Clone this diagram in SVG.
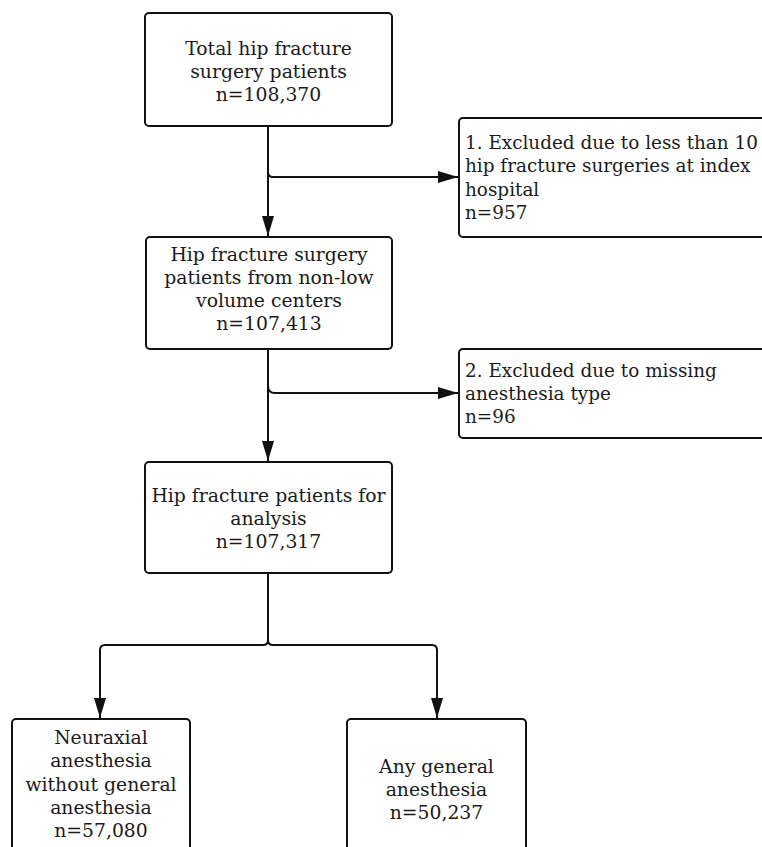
<svg xmlns="http://www.w3.org/2000/svg" width="762" height="847" viewBox="0 0 762 847">
<style>
.box{fill:#fff;stroke:#111;stroke-width:2}
.t{font-family:"DejaVu Serif","Liberation Serif",serif;font-size:18.8px;fill:#1a1a1a}
.s{font-size:18.4px}
.c{text-anchor:middle}
.ln{fill:none;stroke:#111;stroke-width:2}
</style>
<defs>
<marker id="ah" markerUnits="userSpaceOnUse" markerWidth="20" markerHeight="12" refX="20" refY="6" orient="auto">
<path d="M0,0 L20,6 L0,12 z" fill="#111"/>
</marker>
</defs>
<rect width="762" height="847" fill="#fff"/>
<g id="connectors">
<path class="ln" d="M268,126 V236" marker-end="url(#ah)"/>
<path class="ln" d="M268,172 Q268,177 273,177 H458" marker-end="url(#ah)"/>
<path class="ln" d="M268,349 V461" marker-end="url(#ah)"/>
<path class="ln" d="M268,386 Q268,393 275,393 H458" marker-end="url(#ah)"/>
<path class="ln" d="M268,573 V640 Q268,645 263,645 H105 Q100,645 100,650 V718" marker-end="url(#ah)"/>
<path class="ln" d="M268,640 Q268,645 273,645 H432 Q437,645 437,650 V718" marker-end="url(#ah)"/>
</g>
<g id="n1">
<rect class="box" x="145" y="13" width="247" height="113" rx="4"/>
<text class="t c" x="268.5" y="55">Total hip fracture</text>
<text class="t c" x="268.5" y="78">surgery patients</text>
<text class="t c" x="268.5" y="101">n=108,370</text>
</g>
<g id="e1">
<rect class="box" x="459" y="118" width="320" height="119" rx="4"/>
<text class="t s" x="465" y="149">1. Excluded due to less than 10</text>
<text class="t s" x="465" y="172">hip fracture surgeries at index</text>
<text class="t s" x="465" y="196">hospital</text>
<text class="t s" x="465" y="219">n=957</text>
</g>
<g id="n2">
<rect class="box" x="146" y="237" width="246" height="112" rx="4"/>
<text class="t c" x="269" y="261">Hip fracture surgery</text>
<text class="t c" x="269" y="284">patients from non-low</text>
<text class="t c" x="269" y="307">volume centers</text>
<text class="t c" x="269" y="330">n=107,413</text>
</g>
<g id="e2">
<rect class="box" x="459" y="349" width="320" height="89" rx="4"/>
<text class="t s" x="465" y="377">2. Excluded due to missing</text>
<text class="t s" x="465" y="400">anesthesia type</text>
<text class="t s" x="465" y="423">n=96</text>
</g>
<g id="n3">
<rect class="box" x="145" y="462" width="247" height="111" rx="4"/>
<text class="t c" x="268.5" y="502">Hip fracture patients for</text>
<text class="t c" x="268.5" y="525">analysis</text>
<text class="t c" x="268.5" y="548">n=107,317</text>
</g>
<g id="n4">
<rect class="box" x="12" y="719" width="178" height="150" rx="4"/>
<text class="t c" x="101" y="744">Neuraxial</text>
<text class="t c" x="101" y="767">anesthesia</text>
<text class="t c" x="101" y="791">without general</text>
<text class="t c" x="101" y="814">anesthesia</text>
<text class="t c" x="101" y="837">n=57,080</text>
</g>
<g id="n5">
<rect class="box" x="347" y="719" width="179" height="150" rx="4"/>
<text class="t c" x="436.5" y="773">Any general</text>
<text class="t c" x="436.5" y="796">anesthesia</text>
<text class="t c" x="436.5" y="819">n=50,237</text>
</g>
</svg>
